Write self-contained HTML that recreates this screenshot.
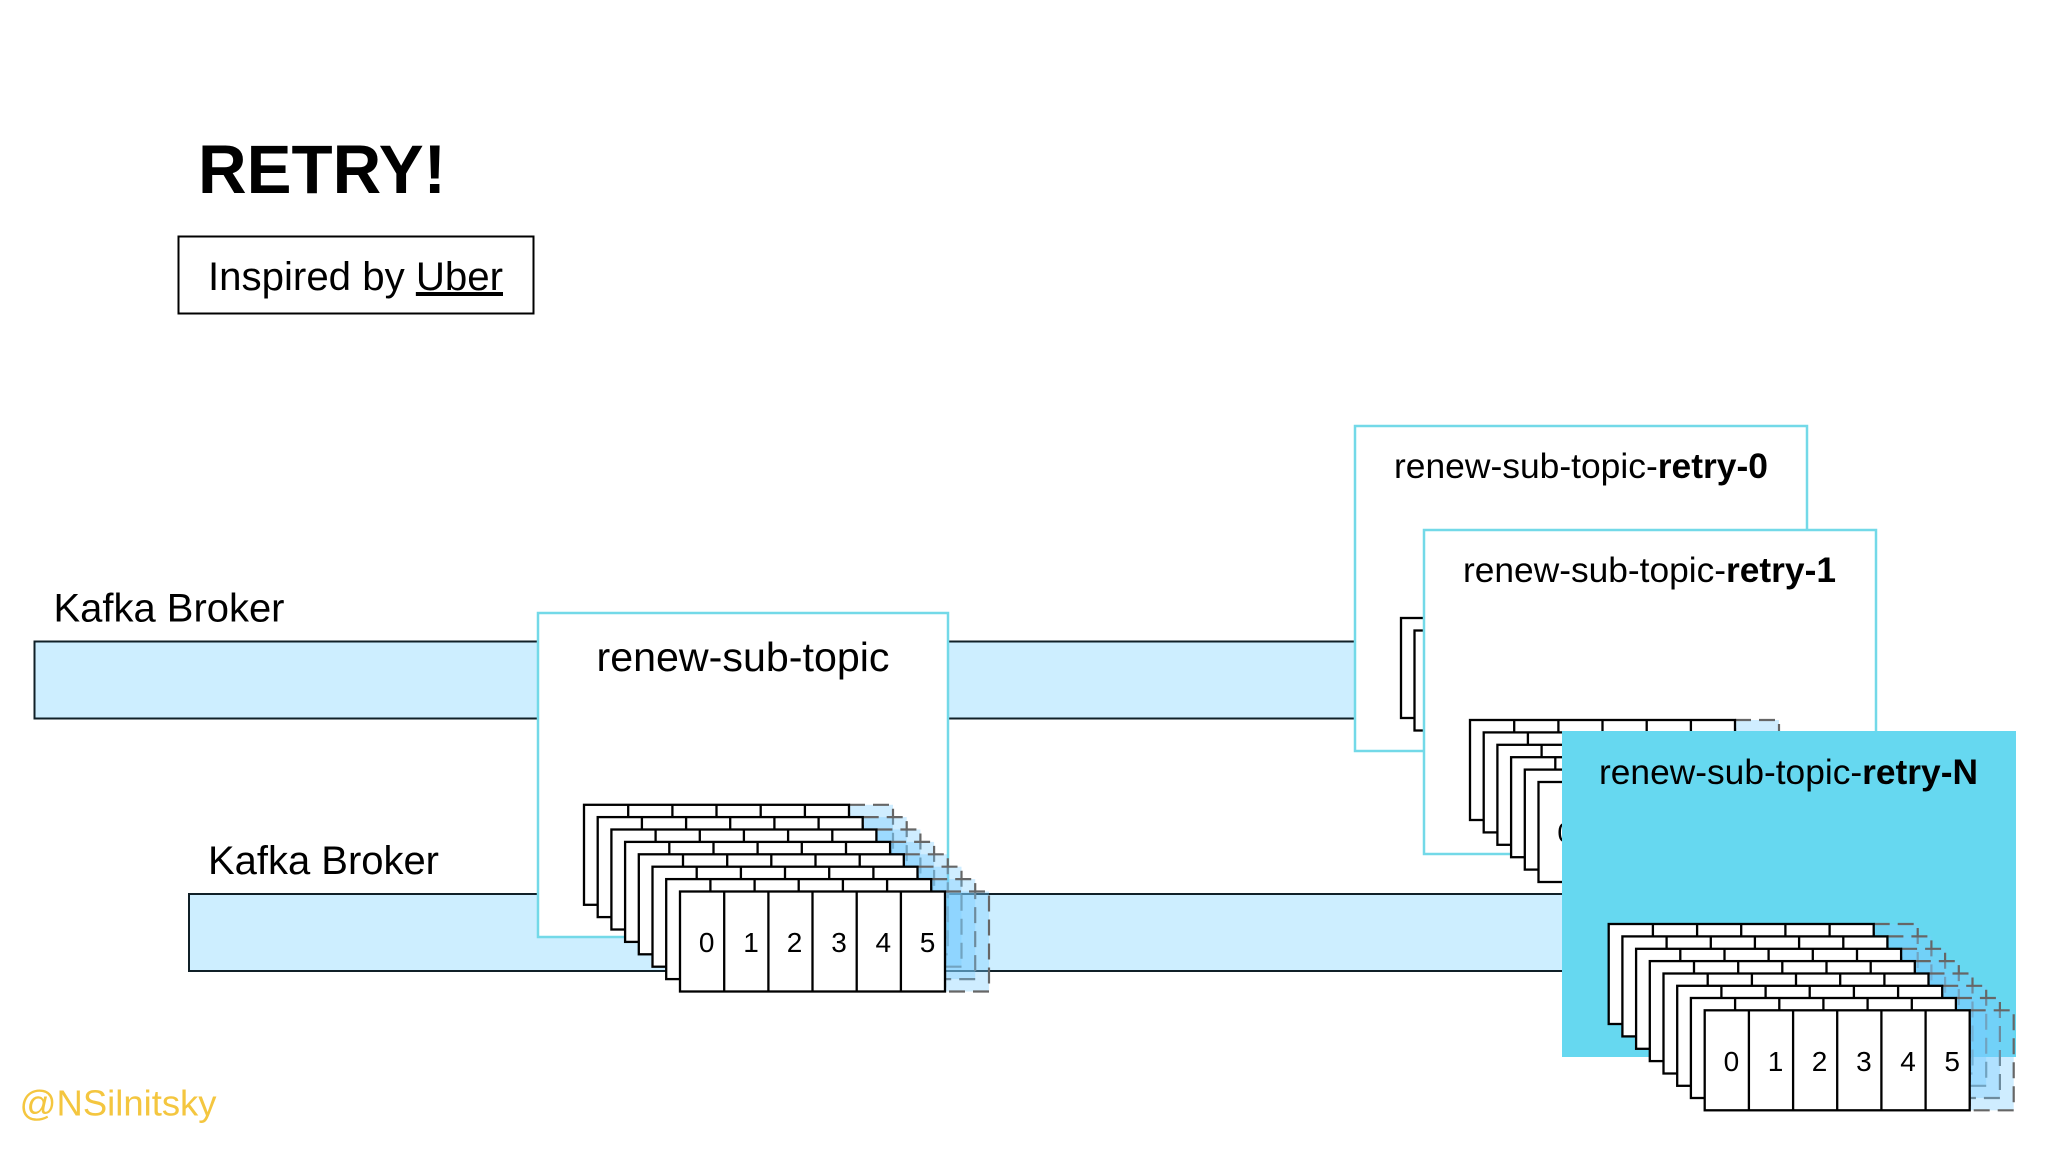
<!DOCTYPE html>
<html>
<head>
<meta charset="utf-8">
<title>Retry</title>
<style>
html,body{margin:0;padding:0;background:#fff}
svg{display:block}
text{font-family:"Liberation Sans",sans-serif;fill:#000}
.b{font-weight:bold}
</style>
</head>
<body>
<svg xmlns="http://www.w3.org/2000/svg" width="2048" height="1152" viewBox="0 0 2048 1152">
<defs>
<g id="L">
<rect x="265" y="0" width="44" height="100" fill="#7accff" fill-opacity=".36" stroke="#666" stroke-width="2.200" stroke-dasharray="16 8"/>
<rect x="0" y="0" width="265" height="100" fill="#fff" stroke="#000" stroke-width="2.300"/>
<path d="M44.200 0V100M88.400 0V100M132.500 0V100M176.700 0V100M220.900 0V100" fill="none" stroke="#000" stroke-width="2.300"/>
</g>
</defs>
<rect width="2048" height="1152" fill="#fff"/>

<text x="198" y="193" font-size="69" class="b" textLength="248" lengthAdjust="spacingAndGlyphs">RETRY!</text>
<rect x="178.500" y="236.500" width="355" height="77" fill="#fff" stroke="#000" stroke-width="2"/>
<text x="208" y="290" font-size="40" textLength="295" lengthAdjust="spacingAndGlyphs">Inspired by <tspan text-decoration="underline">Uber</tspan></text>

<text x="53.500" y="621.500" font-size="40" textLength="231" lengthAdjust="spacingAndGlyphs">Kafka Broker</text>
<rect x="34.500" y="641.500" width="1400" height="77" fill="#cdeeff" stroke="#102028" stroke-width="2"/>
<text x="208" y="874" font-size="40" textLength="231" lengthAdjust="spacingAndGlyphs">Kafka Broker</text>
<rect x="189" y="894" width="1500" height="77" fill="#cdeeff" stroke="#102028" stroke-width="2"/>

<rect x="538" y="613" width="410" height="324" fill="#fff" stroke="#73d9e8" stroke-width="2.500"/>
<text x="596.500" y="671" font-size="41" textLength="293" lengthAdjust="spacingAndGlyphs">renew-sub-topic</text>
<use href="#L" x="584" y="804.800"/>
<use href="#L" x="597.700" y="817.100"/>
<use href="#L" x="611.400" y="829.500"/>
<use href="#L" x="625.100" y="841.900"/>
<use href="#L" x="638.800" y="854.300"/>
<use href="#L" x="652.500" y="866.700"/>
<use href="#L" x="666.200" y="879.100"/>
<use href="#L" x="680" y="891.500"/>
<g font-size="28" text-anchor="middle">
<text x="706.700" y="952">0</text><text x="751" y="952">1</text><text x="794.500" y="952">2</text><text x="839" y="952">3</text><text x="883.300" y="952">4</text><text x="927.500" y="952">5</text>
</g>

<rect x="1355" y="426" width="452" height="325" fill="#fff" stroke="#73d9e8" stroke-width="2.500"/>
<text x="1394" y="478" font-size="35.200" textLength="374" lengthAdjust="spacingAndGlyphs">renew-sub-topic-<tspan class="b">retry-0</tspan></text>
<use href="#L" x="1401" y="618"/>
<use href="#L" x="1414.500" y="630.500"/>

<rect x="1424" y="530" width="452" height="324" fill="#fff" stroke="#73d9e8" stroke-width="2.500"/>
<text x="1463" y="582" font-size="35.200" textLength="373" lengthAdjust="spacingAndGlyphs">renew-sub-topic-<tspan class="b">retry-1</tspan></text>
<use href="#L" x="1470" y="720"/>
<use href="#L" x="1483.700" y="732.400"/>
<use href="#L" x="1497.400" y="744.800"/>
<use href="#L" x="1511.100" y="757.200"/>
<use href="#L" x="1524.800" y="769.600"/>
<use href="#L" x="1538.500" y="782"/>
<text x="1565.200" y="842" font-size="28" text-anchor="middle">0</text>

<rect x="1562" y="731" width="454" height="326" fill="#66d8f0"/>
<text x="1599" y="784" font-size="35.200" textLength="379" lengthAdjust="spacingAndGlyphs">renew-sub-topic-<tspan class="b">retry-N</tspan></text>
<use href="#L" x="1608.700" y="924"/>
<use href="#L" x="1622.400" y="936.400"/>
<use href="#L" x="1636.100" y="948.800"/>
<use href="#L" x="1649.800" y="961.100"/>
<use href="#L" x="1663.500" y="973.500"/>
<use href="#L" x="1677.200" y="985.800"/>
<use href="#L" x="1690.900" y="998"/>
<use href="#L" x="1704.700" y="1010.300"/>
<g font-size="28" text-anchor="middle">
<text x="1731.400" y="1071">0</text><text x="1775.600" y="1071">1</text><text x="1819.500" y="1071">2</text><text x="1863.900" y="1071">3</text><text x="1908" y="1071">4</text><text x="1952.200" y="1071">5</text>
</g>

<text x="19.500" y="1115.500" font-size="36" style="fill:#f4c63f" textLength="197" lengthAdjust="spacingAndGlyphs">@NSilnitsky</text>
</svg>
</body>
</html>
